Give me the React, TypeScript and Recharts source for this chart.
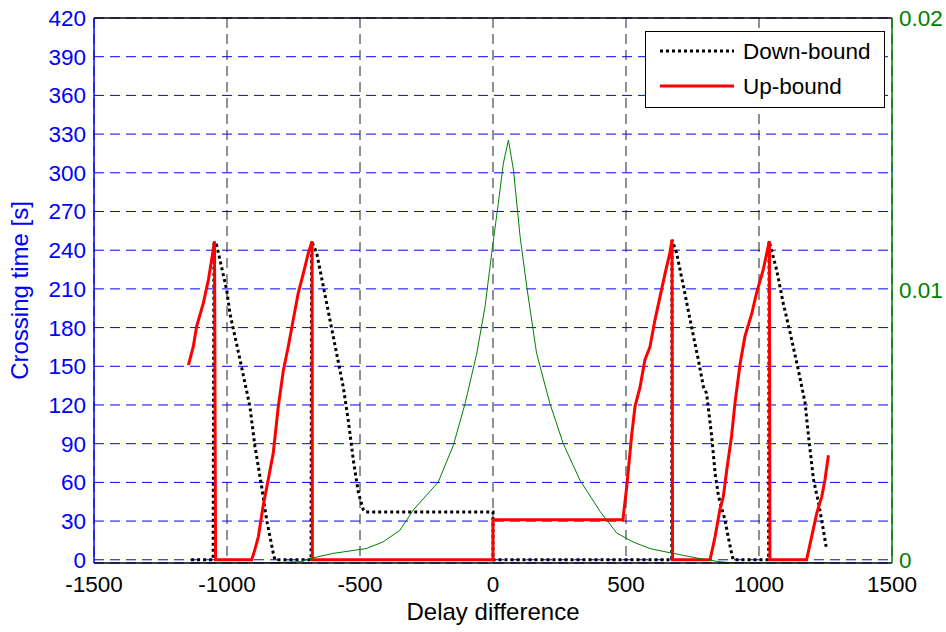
import React from 'react';
import { LineChart, Line, XAxis, YAxis, CartesianGrid, Legend, ReferenceLine } from 'recharts';

const FONT = '"Liberation Sans", Arial, Helvetica, sans-serif';

const xTicks = [-1500, -1000, -500, 0, 500, 1000, 1500];
const leftTicks = [0, 30, 60, 90, 120, 150, 180, 210, 240, 270, 300, 330, 360, 390, 420];
const rightTicks = [0, 0.01, 0.02];
const rightTickLabels = ['0', '0.01', '0.02'];

// Down-bound (black dotted)
const downX = [
  -1135, -1052, -1049, -1039, -1001, -989, -951, -914, -895, -870, -851, -826, -820,
  -684, -682, -663, -638, -613, -588, -563, -544, -525, -506, -488, -478, 0, 0,
  672, 673, 690, 716, 741, 772, 791, 803, 822, 835, 848, 872, 884, 897, 903,
  1036, 1038, 1066, 1091, 1117, 1148, 1173, 1186, 1205, 1224, 1242, 1254,
];
const downY = [
  0, 0, 246, 244, 209, 191, 155, 119, 88, 57, 31, 5, 0,
  0, 247, 238, 212, 186, 160, 134, 108, 77, 52, 39, 37, 37, 0,
  0, 248, 238, 212, 186, 155, 134, 129, 96, 67, 49, 31, 18, 5, 0,
  0, 247, 225, 199, 176, 147, 122, 96, 62, 44, 23, 8,
];

// Up-bound (red solid)
const upX = [
  -1145, -1127, -1114, -1089, -1070, -1058, -1047, -1043,
  -907, -895, -882, -864, -845, -826, -807, -788, -770, -751, -732, -713, -694, -680, -679,
  0, 0, 489, 490, 503, 521, 534, 553, 571, 590, 609, 628, 647, 665, 673, 675,
  816, 835, 853, 866, 879, 897, 910, 929, 947, 973, 991, 1016, 1039, 1041,
  1179, 1198, 1217, 1236, 1248, 1261,
];
const upY = [
  151, 165, 181, 199, 217, 232, 247, 0,
  0, 8, 18, 42, 62, 83, 119, 147, 165, 186, 207, 222, 238, 247, 0,
  0, 31, 31, 34, 57, 96, 119, 134, 155, 165, 186, 204, 222, 238, 248, 0,
  0, 18, 39, 49, 70, 96, 122, 152, 173, 191, 207, 225, 247, 0,
  0, 18, 36, 49, 62, 81,
];

// Thin green curve on the right axis
const densX = [
  -1135, -850, -720, -690, -602, -477, -414, -350, -300, -206, -149, -105, -61, -30, -5,
  20, 39, 58, 77, 102, 127, 164, 214, 264, 327, 402, 465, 527, 590, 653, 716, 778, 850, 903, 1260,
];
const densY = [
  0, 0, 0.00005, 0.00016, 0.00035, 0.00053, 0.00077, 0.0012, 0.00194, 0.00297, 0.00432, 0.00585, 0.00769, 0.0094, 0.01136,
  0.0132, 0.01467, 0.01552, 0.01442, 0.01197, 0.01013, 0.00769, 0.00585, 0.00438, 0.00304, 0.0019, 0.0011, 0.00077, 0.00053, 0.0004, 0.00028, 0.00016, 0.00005, 0, 0,
];

const zip = (xs: number[], ys: number[]) => xs.map((x, i) => ({ x, y: ys[i] }));
const downData = zip(downX, downY);
const upData = zip(upX, upY);
const densData = zip(densX, densY);

const RightTick = (props: any) => {
  const { x, y, payload, index } = props;
  const label = rightTickLabels[index] ?? String(payload.value);
  const shift = payload.value === 0 ? -3 : 0;
  return (
    <text x={x} y={y + shift} dy="0.355em" textAnchor="start" fill="#008000" fontSize={22.5} fontFamily={FONT}>
      {label}
    </text>
  );
};

const LegendBox = () => (
  <svg width={240} height={78} style={{ display: 'block' }}>
    <rect x={0.5} y={0.5} width={239} height={76} fill="#fff" stroke="#000" strokeWidth={1} />
    <line x1={15} x2={89} y1={20} y2={20} stroke="#000" strokeWidth={3} strokeDasharray="3 3" />
    <text x={98} y={28} fontFamily={FONT} fontSize={22.5} fill="#000">Down-bound</text>
    <line x1={15} x2={89} y1={55} y2={55} stroke="#ff0000" strokeWidth={3} />
    <text x={98} y={63} fontFamily={FONT} fontSize={22.5} fill="#000">Up-bound</text>
  </svg>
);

export default function App() {
  return (
    <div style={{ position: 'absolute', left: 0, top: 0, width: 946, height: 632, background: '#fff' }}>
      <LineChart width={946} height={632} margin={{ top: 18, right: 0, bottom: 0, left: 14 }} style={{ fontFamily: FONT }}>
        <CartesianGrid yAxisId="left" vertical={false} stroke="#0000ff" strokeDasharray="10 6" />
        <CartesianGrid yAxisId="left" horizontal={false} stroke="#222222" strokeDasharray="10 6" />
        <XAxis
          dataKey="x"
          type="number"
          domain={[-1500, 1500]}
          ticks={xTicks}
          interval={0}
          allowDataOverflow
          height={69}
          tickLine={false}
          tickSize={6}
          tickMargin={7}
          axisLine={{ stroke: '#000', strokeWidth: 1.5 }}
          tick={{ fill: '#000', fontSize: 22.5, fontFamily: FONT }}
          label={{ value: 'Delay difference', position: 'insideBottom', offset: 12, style: { fill: '#000', fontSize: 24, fontFamily: FONT } }}
        />
        <YAxis
          yAxisId="left"
          type="number"
          domain={[-2.5, 420]}
          ticks={leftTicks}
          interval={0}
          allowDataOverflow
          width={80}
          tickLine={false}
          tickSize={6}
          tickMargin={2}
          axisLine={{ stroke: '#0000ff', strokeWidth: 1.5 }}
          tick={{ fill: '#0000ff', fontSize: 22.5, fontFamily: FONT }}
          label={{ value: 'Crossing time [s]', angle: -90, position: 'insideLeft', offset: 5, style: { textAnchor: 'middle', fill: '#0000ff', fontSize: 24, fontFamily: FONT } }}
        />
        <YAxis
          yAxisId="right"
          orientation="right"
          type="number"
          domain={[0, 0.02]}
          ticks={rightTicks}
          interval={0}
          allowDataOverflow
          width={54}
          tickLine={false}
          tickSize={6}
          tickMargin={1}
          axisLine={{ stroke: '#008000', strokeWidth: 1.5 }}
          tick={<RightTick />}
        />
        <ReferenceLine yAxisId="left" y={420} stroke="#000" strokeWidth={1.5} />
        <Line
          yAxisId="left"
          data={downData}
          dataKey="y"
          type="linear"
          name="Down-bound"
          stroke="#000"
          strokeWidth={3}
          strokeDasharray="3 3"
          dot={false}
          activeDot={false}
          isAnimationActive={false}
        />
        <Line
          yAxisId="left"
          data={upData}
          dataKey="y"
          type="linear"
          name="Up-bound"
          stroke="#ff0000"
          strokeWidth={3}
          dot={false}
          activeDot={false}
          isAnimationActive={false}
        />
        <Line
          yAxisId="right"
          data={densData}
          dataKey="y"
          type="linear"
          name="density"
          stroke="#008000"
          strokeWidth={1}
          dot={false}
          activeDot={false}
          legendType="none"
          isAnimationActive={false}
        />
        <Legend
          layout="vertical"
          align="center"
          verticalAlign="middle"
          wrapperStyle={{ position: 'absolute', left: 645, top: 31, width: 240, height: 78 }}
          content={() => <LegendBox />}
        />
      </LineChart>
    </div>
  );
}
